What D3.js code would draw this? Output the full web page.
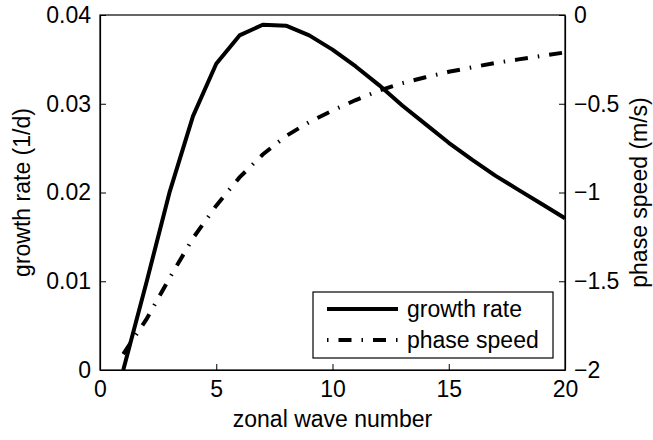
<!DOCTYPE html>
<html>
<head>
<meta charset="utf-8">
<script src="https://cdn.jsdelivr.net/npm/d3@7"></script>
<style>
  html, body { margin: 0; padding: 0; background: #fff; }
  svg { display: block; }
  text { font-family: "Liberation Sans", Arial, Helvetica, sans-serif; fill: #000; }
</style>
</head>
<body>
<svg id="chart" width="653" height="440"></svg>
<script>
const waveNumber = [1, 2, 3, 4, 5, 6, 7, 8, 9, 10, 11, 12, 13, 14, 15, 16, 17, 18, 19, 20];
const growthRate = [0, 0.0099, 0.0201, 0.0286, 0.0345, 0.0377, 0.0389, 0.0388, 0.0377, 0.0361,
                    0.0342, 0.0321, 0.0298, 0.0277, 0.0256, 0.0237, 0.0219, 0.0203, 0.0187, 0.0171];
const phaseSpeed = [-1.91, -1.714, -1.480, -1.257, -1.074, -0.915, -0.786, -0.682, -0.603, -0.538,
                    -0.479, -0.426, -0.384, -0.351, -0.320, -0.295, -0.270, -0.250, -0.230, -0.211];
const xTicks = [0, 5, 10, 15, 20];
const leftTicks = [0, 0.01, 0.02, 0.03, 0.04];
const leftTickLabels = ["0", "0.01", "0.02", "0.03", "0.04"];
const rightTicks = [-2, -1.5, -1, -0.5, 0];
const rightTickLabels = ["\u22122", "\u22121.5", "\u22121", "\u22120.5", "0"];
const seriesNames = ["growth rate", "phase speed"];
const xTitle = "zonal wave number";
const leftTitle = "growth rate (1/d)";
const rightTitle = "phase speed (m/s)";

const L = 100, R = 565, T = 15, B = 370;
const FS = 23;
const DASHDOT = "13,10,1.5,10";

const svg = d3.select("#chart");
const x = d3.scaleLinear().domain([0, 20]).range([L, R]);
const yL = d3.scaleLinear().domain([0, 0.04]).range([B, T]);
const yR = d3.scaleLinear().domain([-2, 0]).range([B, T]);

// frame
svg.append("rect").attr("x", L).attr("y", T).attr("width", R - L).attr("height", B - T)
  .attr("fill", "none").attr("stroke", "#000").attr("stroke-width", 1.2);

// axes with inward ticks
const fmtIdx = (arr, labels) => (d) => labels[arr.indexOf(d)];
const gx = svg.append("g").attr("transform", `translate(0,${B})`)
  .call(d3.axisBottom(x).tickValues(xTicks).tickSizeInner(-6).tickSizeOuter(0).tickPadding(11).tickFormat(d3.format("d")));
const gl = svg.append("g").attr("transform", `translate(${L},0)`)
  .call(d3.axisLeft(yL).tickValues(leftTicks).tickSizeInner(-6).tickSizeOuter(0).tickPadding(9)
    .tickFormat(fmtIdx(leftTicks, leftTickLabels)));
const gr = svg.append("g").attr("transform", `translate(${R},0)`)
  .call(d3.axisRight(yR).tickValues(rightTicks).tickSizeInner(-6).tickSizeOuter(0).tickPadding(9)
    .tickFormat(fmtIdx(rightTicks, rightTickLabels)));
[gx, gl, gr].forEach(g => {
  g.select(".domain").attr("stroke", "#000").attr("stroke-width", 1.2);
  g.selectAll(".tick line").attr("stroke", "#000").attr("stroke-width", 1);
  g.selectAll(".tick text").attr("font-size", FS).attr("font-family", "Liberation Sans, Arial, sans-serif");
});
gx.selectAll(".tick text").attr("dy", "0.71em");

// lines
const lineG = d3.line().x((d, i) => x(waveNumber[i])).y(d => yL(d));
const lineP = d3.line().x((d, i) => x(waveNumber[i])).y(d => yR(d));
svg.append("path").datum(phaseSpeed).attr("d", lineP).attr("fill", "none")
  .attr("stroke", "#000").attr("stroke-width", 4).attr("stroke-dasharray", DASHDOT)
  .attr("stroke-linecap", "butt");
svg.append("path").datum(growthRate).attr("d", lineG).attr("fill", "none")
  .attr("stroke", "#000").attr("stroke-width", 4).attr("stroke-linejoin", "round");

// titles
svg.append("text").attr("x", (L + R) / 2).attr("y", 427).attr("text-anchor", "middle")
  .attr("font-size", FS).text(xTitle);
svg.append("text").attr("transform", `translate(30,${(T + B) / 2}) rotate(-90)`)
  .attr("text-anchor", "middle").attr("font-size", FS).text(leftTitle);
svg.append("text").attr("transform", `translate(647,${(T + B) / 2}) rotate(-90)`)
  .attr("text-anchor", "middle").attr("font-size", FS).text(rightTitle);

// legend
const leg = svg.append("g");
leg.append("rect").attr("x", 313).attr("y", 292).attr("width", 240).attr("height", 66)
  .attr("fill", "#fff").attr("stroke", "#000").attr("stroke-width", 1.2);
const legY = [309, 340];
const legDash = [null, DASHDOT];
seriesNames.forEach((name, i) => {
  leg.append("line").attr("x1", 327).attr("x2", 398).attr("y1", legY[i]).attr("y2", legY[i])
    .attr("stroke", "#000").attr("stroke-width", 4)
    .attr("stroke-dasharray", legDash[i]).attr("stroke-dashoffset", i ? 23 : 0);
  leg.append("text").attr("x", 407).attr("y", legY[i]).attr("dy", "0.35em")
    .attr("font-size", FS).text(name);
});
</script>
</body>
</html>
